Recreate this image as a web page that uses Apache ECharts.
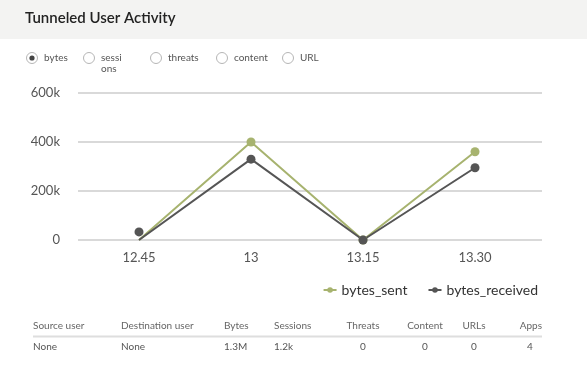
<!DOCTYPE html>
<html>
<head>
<meta charset="utf-8">
<script src="https://cdn.jsdelivr.net/npm/echarts@6/dist/echarts.min.js"></script>
<style>
  html, body { margin: 0; padding: 0; background: #fff; }
  #main { width: 587px; height: 374px; }
</style>
</head>
<body>
<div id="main"></div>
<script>
// time labels along the x axis, minutes after 12.45
var timeLabels = ['12.45', '13', '13.15', '13.30'];
var timeMinutes = [0, 15, 30, 45];

// line values
var sentLine = [0, 400000, 0, 360000];
var receivedLine = [0, 330000, 0, 295000];
// dots drawn on the lines (these don't always sit on the line in the source)
var sentDots = [null, 400000, 0, 360000];
var receivedDots = [33000, 330000, 0, 295000];

var yTicks = [0, 200000, 400000, 600000];

var radioLabels = ['bytes', 'sessi\nons', 'threats', 'content', 'URL'];

var tableHead = ['Source user', 'Destination user', 'Bytes', 'Sessions', 'Threats', 'Content', 'URLs', 'Apps'];
var tableRow = ['None', 'None', '1.3M', '1.2k', '0', '0', '0', '4'];

var FONT = 'Lato, "Open Sans", sans-serif';

var pairs = function (vals) {
    var out = [];
    for (var i = 0; i < vals.length; i++) {
        out.push([timeMinutes[i], vals[i]]);
    }
    return out;
};

var graphics = [];

// title bar
graphics.push({
    type: 'rect', left: 0, top: 0, z: -1,
    shape: { width: 587, height: 39 },
    style: { fill: '#f3f3f2' }
});
graphics.push({
    type: 'text', left: 25, top: 11,
    style: { text: 'Tunneled User Activity', fill: '#222', font: '600 15px ' + FONT }
});

// radio buttons
var radioX = [32, 89, 156, 222, 288];
for (var r = 0; r < radioLabels.length; r++) {
    graphics.push({
        type: 'circle', shape: { cx: radioX[r], cy: 58, r: 5.5 },
        style: { fill: '#fff', stroke: '#b5b5b5', lineWidth: 1 }
    });
    if (r === 0) {
        graphics.push({
            type: 'circle', shape: { cx: radioX[r], cy: 58, r: 2.6 },
            style: { fill: '#444' }
        });
    }
    graphics.push({
        type: 'text', left: radioX[r] + 12, top: 52,
        style: { text: radioLabels[r], fill: '#555', font: '10px ' + FONT, lineHeight: 11 }
    });
}

// summary table
var colX = [33, 121, 224, 274, 363, 425, 474, 530];
var colAlign = ['left', 'left', 'left', 'left', 'center', 'center', 'center', 'center'];
for (var c = 0; c < tableHead.length; c++) {
    var hx = colX[c], ha = colAlign[c];
    if (c === 7) { hx = 542; ha = 'right'; }
    graphics.push({
        type: 'text', x: hx, y: 326,
        style: { text: tableHead[c], fill: '#666', font: '10px ' + FONT, align: ha, verticalAlign: 'middle' }
    });
    graphics.push({
        type: 'text', x: colX[c], y: 347,
        style: { text: tableRow[c], fill: '#555', font: '10px ' + FONT, align: colAlign[c], verticalAlign: 'middle' }
    });
}
graphics.push({
    type: 'line', shape: { x1: 33, y1: 336.5, x2: 542, y2: 336.5 },
    style: { stroke: '#dedede', lineWidth: 2 }
});

var chart = echarts.init(document.getElementById('main'));

var option = {
    animation: false,
    color: ['#a7b36f', '#555555'],
    graphic: graphics,
    legend: {
        data: ['bytes_sent', 'bytes_received'],
        right: 44,
        top: 278,
        itemWidth: 13,
        itemHeight: 7,
        itemGap: 20,
        textStyle: { fontFamily: FONT, fontSize: 14, color: '#333' }
    },
    grid: { left: 78, right: 45, top: 93, bottom: 134 },
    xAxis: {
        type: 'value',
        min: -8.17,
        max: 53.97,
        axisLine: { show: false },
        axisTick: { show: false },
        splitLine: { show: false },
        axisLabel: {
            customValues: timeMinutes,
            margin: 11,
            color: '#555',
            fontFamily: FONT,
            fontSize: 13,
            formatter: function (v) {
                var i = timeMinutes.indexOf(v);
                return i >= 0 ? timeLabels[i] : '';
            }
        }
    },
    yAxis: {
        type: 'value',
        min: yTicks[0],
        max: yTicks[yTicks.length - 1],
        interval: yTicks[1] - yTicks[0],
        axisLine: { show: false },
        axisTick: { show: false },
        splitLine: { lineStyle: { color: '#d9d9d9', width: 2 } },
        axisLabel: {
            margin: 18,
            color: '#555',
            fontFamily: FONT,
            fontSize: 13,
            formatter: function (v) { return v === 0 ? '0' : (v / 1000) + 'k'; }
        }
    },
    series: [{
        name: 'bytes_sent', type: 'line', data: pairs(sentLine),
        symbol: 'circle', symbolSize: 8, showSymbol: false,
        lineStyle: { width: 2 }
    }, {
        name: 'bytes_received', type: 'line', data: pairs(receivedLine),
        symbol: 'circle', symbolSize: 8, showSymbol: false,
        lineStyle: { width: 2 }
    }, {
        name: 'bytes_sent', type: 'scatter', data: pairs(sentDots),
        symbolSize: 9, z: 3, itemStyle: { opacity: 1 }
    }, {
        name: 'bytes_received', type: 'scatter', data: pairs(receivedDots),
        symbolSize: 9, z: 4, itemStyle: { opacity: 1 }
    }]
};

chart.setOption(option);
</script>
</body>
</html>
